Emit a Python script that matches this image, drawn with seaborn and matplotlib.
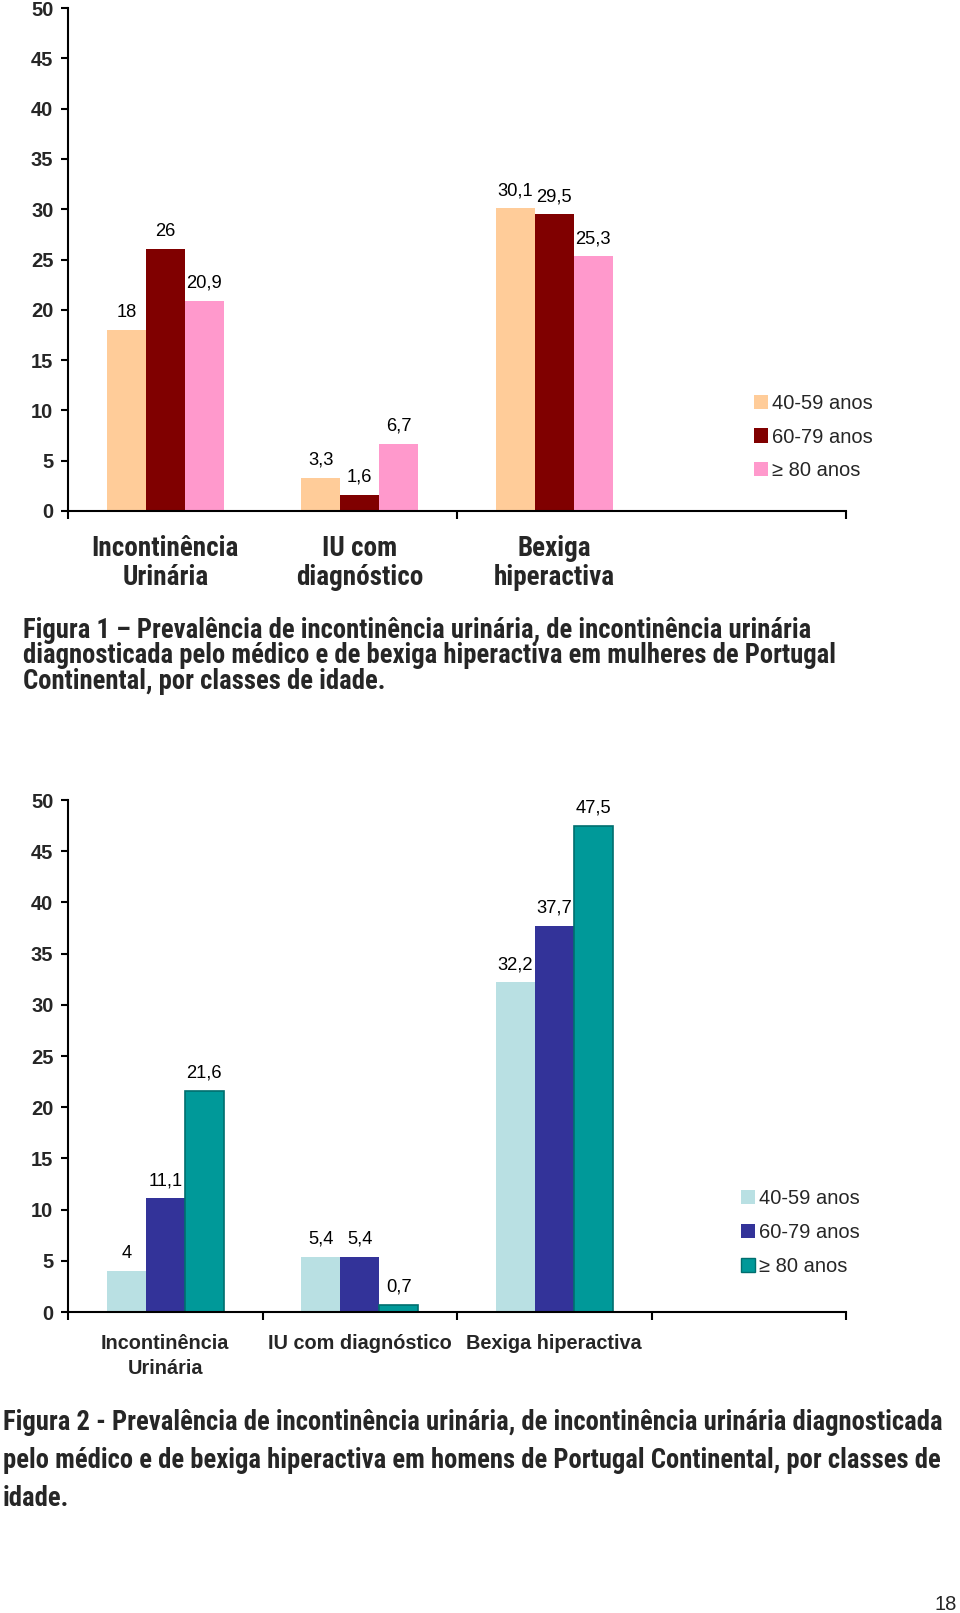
import matplotlib
matplotlib.use("Agg")
import matplotlib.pyplot as plt
import seaborn as sns
import pandas as pd
from matplotlib import font_manager as fm
from matplotlib.patches import Patch

# ---------------- data ----------------
categories_women = ["Incontinência\nUrinária", "IU com\ndiagnóstico", "Bexiga\nhiperactiva"]
categories_men = ["Incontinência\nUrinária", "IU com diagnóstico", "Bexiga hiperactiva"]
age_groups = ["40-59 anos", "60-79 anos", "≥ 80 anos"]

women_40_59 = [18, 3.3, 30.1]
women_60_79 = [26, 1.6, 29.5]
women_80 = [20.9, 6.7, 25.3]

men_40_59 = [4, 5.4, 32.2]
men_60_79 = [11.1, 5.4, 37.7]
men_80 = [21.6, 0.7, 47.5]

y_ticks = [0, 5, 10, 15, 20, 25, 30, 35, 40, 45, 50]

colors_women = ["#FFCC99", "#800000", "#FF99CC"]
edges_women = [None, None, None]
colors_men = ["#B9E0E3", "#333399", "#009999"]
edges_men = [None, None, "#006E6E"]

caption1 = [
    "Figura 1 – Prevalência de incontinência urinária, de incontinência urinária",
    "diagnosticada pelo médico e de bexiga hiperactiva em mulheres de Portugal",
    "Continental, por classes de idade.",
]
caption2 = [
    "Figura 2 - Prevalência de incontinência urinária, de incontinência urinária diagnosticada",
    "pelo médico e de bexiga hiperactiva em homens de Portugal Continental, por classes de",
    "idade.",
]
page_number = "18"

# ---------------- style ----------------
sns.set_theme(style="white")
plt.rcParams["font.family"] = ["Liberation Sans", "DejaVu Sans"]

SANS = ["Liberation Sans", "DejaVu Sans"]


def pick_narrow():
    names = {f.name for f in fm.fontManager.ttflist}
    for n in ["Liberation Sans Narrow", "Arial Narrow", "Roboto Condensed",
              "Open Sans Condensed", "Noto Sans Condensed", "DejaVu Sans Condensed"]:
        if n in names:
            return [n, "DejaVu Sans"], "normal", 1.0
    for f in fm.fontManager.ttflist:
        if f.stretch in ("condensed", "semi-condensed", "extra-condensed") and \
                f.name in ("DejaVu Sans", "Noto Sans", "Open Sans", "Roboto"):
            return [f.name], f.stretch, 1.0
    return SANS, "normal", 0.82


NARROW_FAM, NARROW_STRETCH, NSCALE = pick_narrow()


def narrow_fp(size, weight="bold"):
    return fm.FontProperties(family=NARROW_FAM, stretch=NARROW_STRETCH,
                             weight=weight, size=size * NSCALE)


W, H = 960, 1613
fig = plt.figure(figsize=(W / 100, H / 100), dpi=100)
fig.patch.set_facecolor("white")


def make_df(cats, series):
    rows = []
    for age, vals in zip(age_groups, series):
        for c, v in zip(cats, vals):
            rows.append({"cat": c, "age": age, "value": v})
    return pd.DataFrame(rows)


def fmt(v):
    return f"{v:g}".replace(".", ",")


def draw(ax, cats, series, colors, edges, major_x, label_fp, label_pad, label_ls, leg_anchor):
    df = make_df(cats, series)
    sns.barplot(data=df, x="cat", y="value", hue="age", order=cats,
                hue_order=age_groups, palette=colors, width=0.6,
                saturation=1, errorbar=None, legend=False, ax=ax,
                linewidth=0)
    for cont, ec in zip(ax.containers, edges):
        if ec:
            for p in cont:
                p.set_edgecolor(ec)
                p.set_linewidth(1.2)
    for cont, vals in zip(ax.containers, series):
        ax.bar_label(cont, labels=[fmt(v) for v in vals], padding=6.5,
                     fontsize=13.2, color="black")
    ax.set_xlim(-0.5, 3.5)
    ax.set_ylim(0, 50)
    ax.set_yticks(y_ticks, labels=[str(t) for t in y_ticks])
    ax.tick_params(axis="y", direction="out", length=5, width=1.5,
                   color="black", pad=5.5, left=True)
    tick_fp = fm.FontProperties(family=SANS, weight="bold", size=14.5)
    for t in ax.yaxis.get_major_ticks():
        t.label1.set_fontproperties(tick_fp)
    ax.set_xticks(major_x, labels=[""] * len(major_x))
    ax.set_xticks(range(len(cats)), labels=cats, minor=True)
    for lbl in ax.get_xticklabels(minor=True):
        lbl.set_fontproperties(label_fp)
        lbl.set_linespacing(label_ls)
    ax.tick_params(axis="x", which="major", direction="out", length=6,
                   width=1.5, color="black", bottom=True)
    ax.tick_params(axis="x", which="minor", length=0, pad=label_pad, bottom=True)
    ax.set_xlabel("")
    ax.set_ylabel("")
    for s in ["top", "right"]:
        ax.spines[s].set_visible(False)
    for s in ["left", "bottom"]:
        ax.spines[s].set_color("black")
        ax.spines[s].set_linewidth(1.5)
    ax.set_facecolor("white")
    ax.grid(False)
    handles = [Patch(facecolor=c, edgecolor=(e if e else "none"), linewidth=1.0, label=a)
               for c, e, a in zip(colors, edges, age_groups)]
    ax.legend(handles=handles, loc="center left", bbox_to_anchor=leg_anchor,
              frameon=False, fontsize=14.5, handlelength=0.7, handleheight=0.7,
              handletextpad=0.2, labelspacing=0.73, borderpad=0, borderaxespad=0)


# chart 1 (women)
ax1 = fig.add_axes([68 / W, 1 - 511 / H, 778 / W, 503 / H])
draw(ax1, categories_women, [women_40_59, women_60_79, women_80], colors_women, edges_women,
     [-0.5, 1.5, 3.5], narrow_fp(19.5), 17, 1.12, (0.882, 0.147))

# chart 2 (men)
ax2 = fig.add_axes([68 / W, 1 - 1312 / H, 778 / W, 512 / H])
draw(ax2, categories_men, [men_40_59, men_60_79, men_80], colors_men, edges_men,
     [-0.5, 0.5, 1.5, 2.5, 3.5],
     fm.FontProperties(family=SANS, weight="bold", size=14.3),
     16, 1.4, (0.865, 0.155))

# captions
for i, line in enumerate(caption1):
    fig.text(23 / W, 1 - (630 + 25.7 * i) / H, line, ha="left", va="center",
             fontproperties=narrow_fp(19.2))
for i, line in enumerate(caption2):
    fig.text(3 / W, 1 - (1423 + 38 * i) / H, line, ha="left", va="center",
             fontproperties=narrow_fp(19.2))
fig.text(957 / W, 1 - 1604 / H, page_number, ha="right", va="center",
         fontproperties=fm.FontProperties(family=SANS, size=14.5))

fig.savefig("out.png", dpi=100, facecolor="white")
